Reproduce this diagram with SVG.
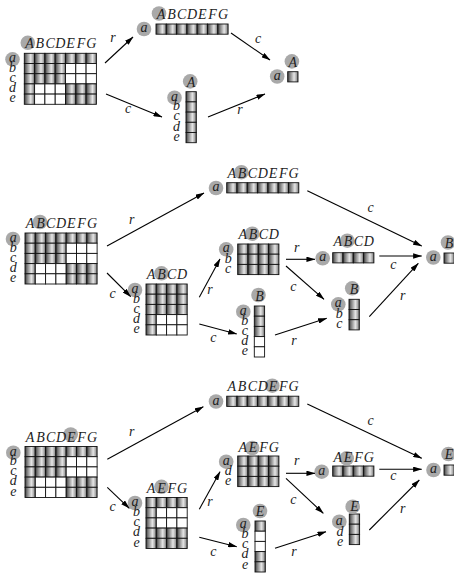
<svg xmlns="http://www.w3.org/2000/svg" width="454" height="573" viewBox="0 0 454 573">
<style>
.t{font-family:"Liberation Serif","Times New Roman","DejaVu Serif",serif;font-style:italic;font-size:14px;fill:#222;text-anchor:middle}
.hl{fill:#a9a9a9}
.cn line{stroke:#000;stroke-width:1.1;marker-end:url(#ah)}
</style>
<defs>
<linearGradient id="shade" x1="0" y1="0" x2="1" y2="0">
<stop offset="0" stop-color="#3a3a3a"/>
<stop offset="0.2" stop-color="#7a7a7a"/>
<stop offset="0.62" stop-color="#e6e6e6"/>
<stop offset="0.85" stop-color="#a8a8a8"/>
<stop offset="1" stop-color="#5a5a5a"/>
</linearGradient>
<marker id="ah" viewBox="0 0 10 6" refX="9.5" refY="3" markerWidth="9" markerHeight="5.4" markerUnits="userSpaceOnUse" orient="auto"><path d="M0,0 L10,3 L0,6 z" fill="#000"/></marker>
<rect id="F" width="10.3" height="10.2" fill="url(#shade)" stroke="#111" stroke-width="0.9"/>
<rect id="W" width="10.3" height="10.2" fill="#fff" stroke="#111" stroke-width="0.9"/>
<g id="r3F"><use href="#F"/><use href="#F" x="10.3"/><use href="#F" x="20.6"/></g>
<g id="r3W"><use href="#W"/><use href="#W" x="10.3"/><use href="#W" x="20.6"/></g>
<g id="r4F"><use href="#F"/><use href="#r3F" x="10.3"/></g>
<g id="r7F"><use href="#r4F"/><use href="#r3F" x="41.2"/></g>
<g id="fwww"><use href="#F"/><use href="#r3W" x="10.3"/></g>
<g id="b43"><use href="#r4F"/><use href="#r4F" y="10.2"/><use href="#r4F" y="20.4"/></g>
<g id="c3F"><use href="#F"/><use href="#F" y="10.2"/><use href="#F" y="20.4"/></g>
<g id="c5F"><use href="#c3F"/><use href="#F" y="30.6"/><use href="#F" y="40.8"/></g>
<g id="grid75">
<use href="#r7F"/>
<use href="#r4F" y="10.2"/><use href="#r3W" x="41.2" y="10.2"/>
<use href="#r4F" y="20.4"/><use href="#r3W" x="41.2" y="20.4"/>
<use href="#fwww" y="30.6"/><use href="#r3F" x="41.2" y="30.6"/>
<use href="#fwww" y="40.8"/><use href="#r3F" x="41.2" y="40.8"/>
</g>
</defs>
<rect width="454" height="573" fill="#fff"/>

<!-- first example: highlighted (a, A) -->
<g id="s1-grid" transform="translate(24.3,53.3)">
<use href="#grid75"/>
<circle class="hl" cx="3.5" cy="-10.5" r="7.3"/>
<circle class="hl" cx="-11.8" cy="6" r="7.3"/>
<text class="t" x="5.15 15.45 25.75 36.05 46.35 56.65 66.95" y="-5">ABCDEFG</text>
<text class="t" x="-11.8 -11.8 -11.8 -11.8 -11.8" y="9 18.5 28.7 38.9 49.1">abcde</text>
</g>
<g id="s1-row" transform="translate(156,24)">
<use href="#r7F"/>
<circle class="hl" cx="3" cy="-10.5" r="7.3"/>
<circle class="hl" cx="-12" cy="5" r="7.3"/>
<text class="t" x="5.15 15.45 25.75 36.05 46.35 56.65 66.95" y="-5">ABCDEFG</text>
<text class="t" x="-12" y="8">a</text>
</g>
<g id="s1-col" transform="translate(186,91.7)">
<use href="#c5F"/>
<circle class="hl" cx="4.2" cy="-10.3" r="7.3"/>
<circle class="hl" cx="-11.5" cy="6" r="7.3"/>
<text class="t" x="5.15" y="-5">A</text>
<text class="t" x="-11.5 -9.5 -9.5 -9.5 -9.5" y="9 18.5 28.7 38.9 49.1">abcde</text>
</g>
<g id="s1-cell" transform="translate(287.7,71.7)">
<use href="#F"/>
<circle class="hl" cx="4.2" cy="-10.3" r="7.3"/>
<circle class="hl" cx="-10.5" cy="4.8" r="7.3"/>
<text class="t" x="5.15" y="-5">A</text>
<text class="t" x="-10.5" y="7.8">a</text>
</g>

<!-- second example: highlighted (a, B) -->
<g id="s2-grid" transform="translate(25,233)">
<use href="#grid75"/>
<circle class="hl" cx="15" cy="-11" r="7.3"/>
<circle class="hl" cx="-12" cy="6" r="7.3"/>
<text class="t" x="5.15 15.45 25.75 36.05 46.35 56.65 66.95" y="-5">ABCDEFG</text>
<text class="t" x="-11.8 -11.8 -11.8 -11.8 -11.8" y="9 18.5 28.7 38.9 49.1">abcde</text>
</g>
<g id="s2-row" transform="translate(226.7,182.7)">
<use href="#r7F"/>
<circle class="hl" cx="14.7" cy="-10.5" r="7.3"/>
<circle class="hl" cx="-10.7" cy="5.3" r="7.3"/>
<text class="t" x="5.15 15.45 25.75 36.05 46.35 56.65 66.95" y="-5">ABCDEFG</text>
<text class="t" x="-10.7" y="8.3">a</text>
</g>
<g id="s2-sub" transform="translate(146,284)">
<use href="#b43"/><use href="#fwww" y="30.6"/><use href="#fwww" y="40.8"/>
<circle class="hl" cx="15.5" cy="-10.7" r="7.3"/>
<circle class="hl" cx="-11" cy="6" r="7.3"/>
<text class="t" x="5.15 15.45 25.75 36.05" y="-5">ABCD</text>
<text class="t" x="-11 -9.5 -9.5 -9.5 -9.5" y="9 18.5 28.7 38.9 49.1">abcde</text>
</g>
<g id="s2-rowsub" transform="translate(237.7,244)">
<use href="#b43"/>
<circle class="hl" cx="14.5" cy="-10.3" r="7.3"/>
<circle class="hl" cx="-11.5" cy="5.3" r="7.3"/>
<text class="t" x="5.15 15.45 25.75 36.05" y="-5">ABCD</text>
<text class="t" x="-11.5 -9.5 -9.5" y="8.3 18.5 28.7">abc</text>
</g>
<g id="s2-colsub" transform="translate(254.3,306)">
<use href="#c3F"/><use href="#W" y="30.6"/><use href="#W" y="40.8"/>
<circle class="hl" cx="4.2" cy="-11" r="7.3"/>
<circle class="hl" cx="-11" cy="5.7" r="7.3"/>
<text class="t" x="5.15" y="-5.5">B</text>
<text class="t" x="-11 -9.5 -9.5 -9.5 -9.5" y="8.7 18.5 28.7 38.9 49.1">abcde</text>
</g>
<g id="s2-rowa" transform="translate(332.7,252.7)">
<use href="#r4F"/>
<circle class="hl" cx="14.6" cy="-12" r="7.3"/>
<circle class="hl" cx="-10" cy="5.6" r="7.3"/>
<text class="t" x="5.15 15.45 25.75 36.05" y="-6.5">ABCD</text>
<text class="t" x="-10" y="8.6">a</text>
</g>
<g id="s2-colabc" transform="translate(349,299.3)">
<use href="#c3F"/>
<circle class="hl" cx="3.2" cy="-11" r="7.3"/>
<circle class="hl" cx="-10.7" cy="5" r="7.3"/>
<text class="t" x="5.15" y="-5.5">B</text>
<text class="t" x="-10.7 -9.7 -9.7" y="8 18.5 28.7">abc</text>
</g>
<g id="s2-cell" transform="translate(444,253)">
<use href="#F"/>
<circle class="hl" cx="4" cy="-10.5" r="7.3"/>
<circle class="hl" cx="-10.7" cy="4.5" r="7.3"/>
<text class="t" x="5.15" y="-5.5">B</text>
<text class="t" x="-10.7" y="7.5">a</text>
</g>

<!-- third example: highlighted (a, E) -->
<g id="s3-grid" transform="translate(25,446.5)">
<use href="#grid75"/>
<circle class="hl" cx="45.7" cy="-12" r="7.3"/>
<circle class="hl" cx="-11.7" cy="6.2" r="7.3"/>
<text class="t" x="5.15 15.45 25.75 36.05 46.35 56.65 66.95" y="-5">ABCDEFG</text>
<text class="t" x="-11.7 -11.7 -11.7 -11.7 -11.7" y="9.2 18.5 28.7 38.9 49.1">abcde</text>
</g>
<g id="s3-row" transform="translate(226.7,396.2)">
<use href="#r7F"/>
<circle class="hl" cx="45.6" cy="-10.5" r="7.3"/>
<circle class="hl" cx="-10.7" cy="5.3" r="7.3"/>
<text class="t" x="5.15 15.45 25.75 36.05 46.35 56.65 66.95" y="-5">ABCDEFG</text>
<text class="t" x="-10.7" y="8.3">a</text>
</g>
<g id="s3-sub" transform="translate(146,497.5)">
<use href="#r4F"/><use href="#fwww" y="10.2"/><use href="#fwww" y="20.4"/><use href="#r4F" y="30.6"/><use href="#r4F" y="40.8"/>
<circle class="hl" cx="15.5" cy="-10.7" r="7.3"/>
<circle class="hl" cx="-11" cy="5.5" r="7.3"/>
<text class="t" x="5.15 15.45 25.75 36.05" y="-5">AEFG</text>
<text class="t" x="-11 -9.5 -9.5 -9.5 -9.5" y="8.5 18.5 28.7 38.9 49.1">abcde</text>
</g>
<g id="s3-rowsub" transform="translate(237.7,456)">
<use href="#b43"/>
<circle class="hl" cx="14.5" cy="-8" r="7.3"/>
<circle class="hl" cx="-11.5" cy="5.7" r="7.3"/>
<text class="t" x="5.15 15.45 25.75 36.05" y="-4">AEFG</text>
<text class="t" x="-11.5 -9.5 -9.5" y="8.7 18.5 28.7">ade</text>
</g>
<g id="s3-colsub" transform="translate(255,521)">
<use href="#F"/><use href="#W" y="10.2"/><use href="#W" y="20.4"/><use href="#F" y="30.6"/><use href="#F" y="40.8"/>
<circle class="hl" cx="5" cy="-10" r="7.3"/>
<circle class="hl" cx="-11.7" cy="4" r="7.3"/>
<text class="t" x="5.15" y="-5">E</text>
<text class="t" x="-11.7 -10 -10 -10 -10" y="7 17 27 37 47.5">abcde</text>
</g>
<g id="s3-rowa" transform="translate(332.7,466)">
<use href="#r4F"/>
<circle class="hl" cx="14" cy="-7.7" r="7.3"/>
<circle class="hl" cx="-11" cy="5.7" r="7.3"/>
<text class="t" x="5.15 15.45 25.75 36.05" y="-4">AEFG</text>
<text class="t" x="-11" y="8.7">a</text>
</g>
<g id="s3-colade" transform="translate(349.3,514)">
<use href="#c3F"/>
<circle class="hl" cx="3.4" cy="-7.3" r="7.3"/>
<circle class="hl" cx="-10" cy="7.7" r="7.3"/>
<text class="t" x="5.15" y="-3">E</text>
<text class="t" x="-10 -9.3 -9.3" y="10.7 22 32">ade</text>
</g>
<g id="s3-cell" transform="translate(444,465)">
<use href="#F"/>
<circle class="hl" cx="4.5" cy="-11" r="7.3"/>
<circle class="hl" cx="-10.5" cy="5" r="7.3"/>
<text class="t" x="5.15" y="-6">E</text>
<text class="t" x="-10.5" y="8">a</text>
</g>

<!-- arrows r (row) and c (column) -->
<g id="connectors" class="cn">
<line x1="105" y1="63" x2="133" y2="37"/>
<line x1="106" y1="94" x2="162" y2="117"/>
<line x1="231" y1="33" x2="270" y2="60"/>
<line x1="208" y1="117" x2="265" y2="94"/>

<line x1="107" y1="246" x2="204" y2="193"/>
<line x1="107" y1="273" x2="130.7" y2="296.7"/>
<line x1="307.3" y1="190.7" x2="421.7" y2="246"/>
<line x1="199.3" y1="297.3" x2="220" y2="259"/>
<line x1="199.3" y1="324" x2="236.7" y2="334"/>
<line x1="286" y1="259.3" x2="315" y2="259.3"/>
<line x1="379.3" y1="256" x2="421.7" y2="256"/>
<line x1="286" y1="266" x2="324" y2="299.3"/>
<line x1="275" y1="335" x2="326.7" y2="318.3"/>
<line x1="369.3" y1="316.7" x2="418.3" y2="263.3"/>

<line x1="107.3" y1="459.3" x2="203.3" y2="406.7"/>
<line x1="107.3" y1="487.3" x2="129.3" y2="508.3"/>
<line x1="307.3" y1="404" x2="421.7" y2="458.3"/>
<line x1="199.3" y1="509.3" x2="220" y2="471.7"/>
<line x1="199.3" y1="537.3" x2="236.7" y2="546.7"/>
<line x1="286" y1="473.3" x2="315" y2="473.3"/>
<line x1="379.3" y1="469.3" x2="421.7" y2="469.3"/>
<line x1="286" y1="478.3" x2="323.3" y2="513.3"/>
<line x1="275" y1="548.3" x2="326" y2="531.7"/>
<line x1="369.3" y1="530" x2="419.3" y2="480"/>
</g>
<g id="connector-labels">
<text class="t" x="113" y="42">r</text>
<text class="t" x="128" y="113">c</text>
<text class="t" x="258" y="43">c</text>
<text class="t" x="240" y="114">r</text>

<text class="t" x="131.7" y="223.7">r</text>
<text class="t" x="112.7" y="298">c</text>
<text class="t" x="370.7" y="212.3">c</text>
<text class="t" x="210" y="293.7">r</text>
<text class="t" x="213.3" y="342.3">c</text>
<text class="t" x="296.7" y="252.3">r</text>
<text class="t" x="393.3" y="269">c</text>
<text class="t" x="293.3" y="291.3">c</text>
<text class="t" x="294" y="344.7">r</text>
<text class="t" x="402.7" y="299.7">r</text>

<text class="t" x="131.7" y="436.3">r</text>
<text class="t" x="112.7" y="511.3">c</text>
<text class="t" x="370.7" y="424.7">c</text>
<text class="t" x="210" y="506.3">r</text>
<text class="t" x="213.3" y="555.7">c</text>
<text class="t" x="296.7" y="464.7">r</text>
<text class="t" x="393.3" y="480.3">c</text>
<text class="t" x="293.3" y="503.7">c</text>
<text class="t" x="294" y="556.3">r</text>
<text class="t" x="402.7" y="513">r</text>
</g>
</svg>
